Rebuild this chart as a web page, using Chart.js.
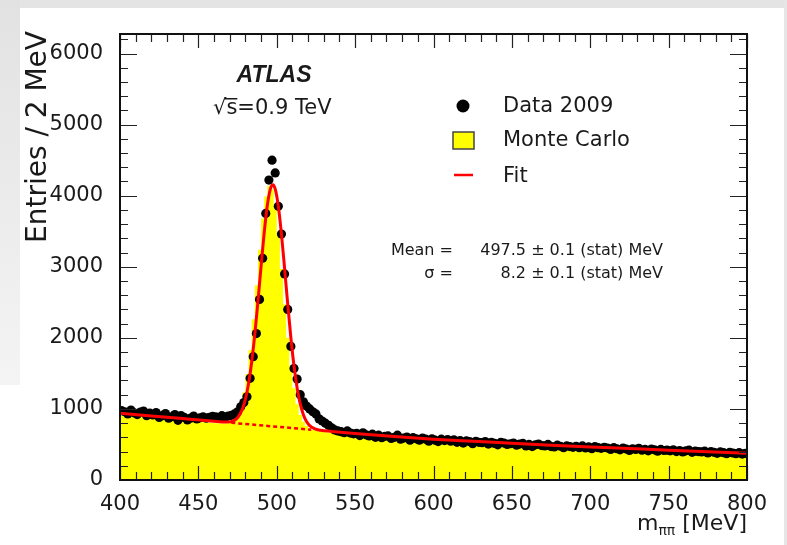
<!DOCTYPE html>
<html>
<head>
<meta charset="utf-8">
<script src="https://cdn.jsdelivr.net/npm/chart.js@4.4.1/dist/chart.umd.min.js"></script>
<style>
  html, body { margin: 0; padding: 0; background: #fff; }
  #wrap { position: relative; width: 787px; height: 545px; overflow: hidden; background: #fff; }
  .shade-top { position: absolute; left: 0; top: 0; width: 787px; height: 8px; background: #e4e4e4; }
  .shade-left { position: absolute; left: 0; top: 0; width: 20px; height: 385px; background: linear-gradient(#e2e2e2, #f4f4f4); }
  .shade-right { position: absolute; right: 0; top: 0; width: 3px; height: 545px; background: #e6e6e6; }
  canvas { position: absolute; left: 0; top: 0; }
</style>
</head>
<body>
<div id="wrap">
  <div class="shade-top"></div>
  <div class="shade-left"></div>
  <div class="shade-right"></div>
  <canvas id="myChart" width="787" height="545"></canvas>
</div>
<script>
// 2 MeV bins from 400 to 800 MeV
const binLow = 400;
const binWidth = 2;

// Data 2009, entries per bin (bin centres 401, 403, ... 799)
const data2009 = [
    975, 960, 930, 985, 945, 920, 955, 970, 905, 940,
    915, 950, 880, 905, 935, 870, 890, 920, 840, 905,
    880, 845, 870, 900, 860, 875, 890, 870, 880, 895,
    890, 875, 905, 885, 900, 910, 930, 960, 1030, 1090,
    1170, 1430, 1735, 2060, 2540, 3120, 3750, 4220, 4500, 4320,
    3850, 3460, 2900, 2400, 1880, 1570, 1420, 1200, 1100, 1040,
    1000, 960, 930, 860, 830, 800, 770, 735, 705, 690,
    680, 665, 690, 660, 650, 655, 625, 665, 635, 620,
    645, 600, 630, 595, 615, 620, 585, 600, 630, 575,
    590, 605, 560, 595, 580, 560, 590, 575, 545, 580,
    560, 540, 575, 555, 570, 545, 565, 530, 555, 520,
    550, 540, 510, 545, 530, 525, 540, 505, 530, 515,
    495, 530, 520, 500, 510, 520, 490, 505, 515, 480,
    500, 470, 495, 505, 485, 480, 500, 470, 465, 490,
    475, 455, 480, 470, 460, 475, 455, 480, 450, 465,
    440, 470, 455, 445, 460, 450, 430, 455, 440, 425,
    450, 435, 415, 440, 430, 445, 420, 430, 410, 435,
    425, 405, 430, 415, 420, 410, 425, 400, 415, 395,
    410, 420, 390, 405, 400, 395, 405, 380, 400, 390,
    375, 395, 385, 370, 390, 380, 370, 385, 365, 375
];

// Monte Carlo histogram, same bins
const monteCarlo = [
    912, 908, 905, 900, 897, 893, 889, 886, 882, 878,
    875, 871, 868, 864, 860, 856, 853, 849, 846, 842,
    838, 834, 830, 827, 823, 819, 816, 812, 808, 805,
    802, 800, 797, 795, 795, 818, 838, 872, 938, 1050,
    1230, 1490, 1830, 2260, 2740, 3240, 3680, 3990, 4140, 4090,
    3840, 3450, 2970, 2470, 2000, 1600, 1290, 1065, 915, 820,
    760, 725, 705, 692, 686, 680, 672, 668, 660, 655,
    650, 646, 640, 637, 632, 628, 626, 620, 615, 612,
    612, 608, 604, 600, 597, 592, 590, 585, 582, 578,
    578, 575, 570, 568, 565, 560, 558, 555, 552, 548,
    548, 546, 542, 540, 536, 534, 531, 528, 526, 522,
    522, 519, 517, 514, 512, 508, 506, 504, 500, 498,
    497, 494, 492, 489, 486, 484, 482, 479, 477, 475,
    474, 471, 469, 467, 464, 462, 460, 458, 456, 453,
    452, 450, 448, 446, 443, 441, 440, 437, 435, 433,
    432, 430, 428, 426, 424, 422, 420, 418, 416, 414,
    413, 411, 409, 407, 405, 403, 402, 400, 398, 396,
    395, 393, 391, 390, 388, 386, 384, 383, 381, 380,
    378, 376, 375, 373, 372, 370, 368, 367, 365, 364,
    362, 361, 359, 358, 356, 355, 353, 352, 351, 349
];

// fit curve
const fitMass = [400, 420, 440, 460, 468, 472, 475, 478, 480, 482, 484, 486, 488, 490, 492, 494, 496, 497.5,
                 499, 501, 503, 505, 507, 509, 511, 513, 515, 517, 519, 521, 524, 528, 535,
                 550, 575, 600, 625, 650, 675, 700, 725, 750, 775, 800];
const fitValue = [940, 902, 864, 826, 816, 830, 876, 993, 1137, 1354, 1657, 2048, 2510, 3007, 3481, 3865, 4100, 4155,
                  4095, 3852, 3460, 2978, 2474, 2005, 1606, 1295, 1070, 919, 823, 766, 722, 699, 684,
                  655, 612, 575, 545, 516, 490, 466, 443, 420, 398, 377];

// background part of the fit under the peak (dashed)
const bgMass = [471, 522];
const bgValue = [805, 708];

const xTickValues = [400, 450, 500, 550, 600, 650, 700, 750, 800];
const yTickValues = [0, 1000, 2000, 3000, 4000, 5000, 6000];
const yMax = 6275;

const dataPoints = data2009.map((v, i) => ({ x: binLow + binWidth * (i + 0.5), y: v }));
const mcPoints = monteCarlo.map((v, i) => ({ x: binLow + binWidth * i, y: v }));
mcPoints.push({ x: binLow + binWidth * monteCarlo.length, y: monteCarlo[monteCarlo.length - 1] });
const fitPoints = fitMass.map((m, i) => ({ x: m, y: fitValue[i] }));
const bgPoints = bgMass.map((m, i) => ({ x: m, y: bgValue[i] }));

const FONT = '"DejaVu Sans", sans-serif';

// ROOT style frame with ticks pointing inwards
const rootFrame = {
    id: 'rootFrame',
    afterDatasetsDraw(chart) {
        const { ctx, chartArea: a, scales: { x, y } } = chart;
        ctx.save();
        ctx.strokeStyle = '#222';
        ctx.lineWidth = 1.2;
        ctx.beginPath();
        for (let v = 400; v <= 800; v += 10) {
            const px = Math.round(x.getPixelForValue(v)) + 0.5;
            const len = v % 50 === 0 ? 14 : 8;
            ctx.moveTo(px, a.bottom); ctx.lineTo(px, a.bottom - len);
            ctx.moveTo(px, a.top); ctx.lineTo(px, a.top + len);
        }
        for (let v = 0; v <= yMax; v += 200) {
            const py = Math.round(y.getPixelForValue(v)) + 0.5;
            const len = v % 1000 === 0 ? 17 : 8;
            ctx.moveTo(a.left, py); ctx.lineTo(a.left + len, py);
            ctx.moveTo(a.right, py); ctx.lineTo(a.right - len, py);
        }
        ctx.stroke();
        ctx.lineWidth = 2;
        ctx.strokeStyle = '#111';
        ctx.strokeRect(a.left, a.top, a.right - a.left, a.bottom - a.top);
        ctx.restore();
    }
};

// titles, labels and legend
const annotations = {
    id: 'annotations',
    afterDraw(chart) {
        const ctx = chart.ctx;
        const ds = chart.data.datasets;
        ctx.save();
        ctx.fillStyle = '#1a1a1a';

        // y axis title
        ctx.save();
        ctx.translate(39, 31);
        ctx.rotate(-Math.PI / 2);
        ctx.font = '28px ' + FONT;
        ctx.textAlign = 'right';
        ctx.textBaseline = 'middle';
        ctx.fillText('Entries / 2 MeV', 0, 0);
        ctx.restore();

        // x axis title  m_ππ [MeV]
        ctx.textBaseline = 'alphabetic';
        ctx.textAlign = 'left';
        ctx.font = '22px ' + FONT;
        const unit = ' [MeV]';
        const wUnit = ctx.measureText(unit).width;
        ctx.font = '14px ' + FONT;
        const wSub = ctx.measureText('ππ').width;
        ctx.font = '22px ' + FONT;
        const wM = ctx.measureText('m').width;
        let xt = chart.chartArea.right - wUnit - wSub - wM;
        ctx.fillText('m', xt, 530);
        ctx.font = '14px ' + FONT;
        ctx.fillText('ππ', xt + wM, 535);
        ctx.font = '22px ' + FONT;
        ctx.fillText(unit, xt + wM + wSub, 530);

        // ATLAS label
        ctx.textAlign = 'center';
        ctx.textBaseline = 'middle';
        ctx.font = 'italic bold 23px "Liberation Sans", Arial, sans-serif';
        ctx.fillText('ATLAS', 274, 76);

        // sqrt(s) label
        ctx.textAlign = 'left';
        ctx.font = '21px ' + FONT;
        const sx = 213;
        ctx.fillText('\u221As=0.9 TeV', sx, 109);
        const wRoot = ctx.measureText('\u221A').width;
        const wS = ctx.measureText('s').width;
        ctx.fillRect(sx + wRoot - 2, 98, wS + 2, 1.5);

        // legend
        ctx.font = '21px ' + FONT;
        ctx.fillStyle = ds[1].pointBackgroundColor;
        ctx.beginPath();
        ctx.arc(463, 106, 6.5, 0, Math.PI * 2);
        ctx.fill();
        ctx.fillStyle = ds[3].backgroundColor;
        ctx.fillRect(453, 132, 21, 17);
        ctx.strokeStyle = '#444';
        ctx.lineWidth = 1.5;
        ctx.strokeRect(453, 132, 21, 17);
        ctx.strokeStyle = ds[0].borderColor;
        ctx.lineWidth = 2.5;
        ctx.beginPath();
        ctx.moveTo(454, 175); ctx.lineTo(473, 175);
        ctx.stroke();
        ctx.fillStyle = '#1a1a1a';
        ctx.fillText(ds[1].label, 503, 107);
        ctx.fillText(ds[3].label, 503, 141);
        ctx.fillText(ds[0].label, 503, 177);

        // fit results
        ctx.font = '16px ' + FONT;
        ctx.textAlign = 'right';
        ctx.fillText('Mean =', 453, 251);
        ctx.fillText('\u03C3 =', 453, 274);
        ctx.fillText('497.5 \u00B1 0.1 (stat) MeV', 663, 251);
        ctx.fillText('8.2 \u00B1 0.1 (stat) MeV', 663, 274);
        ctx.restore();
    }
};

const ctx = document.getElementById('myChart');

new Chart(ctx, {
    type: 'line',
    data: {
        datasets: [
            {
                label: 'Fit',
                data: fitPoints,
                borderColor: '#ff0000',
                borderWidth: 3,
                pointRadius: 0,
                cubicInterpolationMode: 'monotone',
                fill: false,
                order: 0
            },
            {
                label: 'Data 2009',
                data: dataPoints,
                showLine: false,
                pointRadius: 4.6,
                pointBackgroundColor: '#000000',
                pointBorderColor: '#000000',
                pointBorderWidth: 0,
                order: 1
            },
            {
                label: 'Background',
                data: bgPoints,
                borderColor: '#ff0000',
                borderWidth: 2.5,
                borderDash: [4, 3],
                pointRadius: 0,
                fill: false,
                order: 2
            },
            {
                label: 'Monte Carlo',
                data: mcPoints,
                stepped: 'after',
                fill: 'origin',
                backgroundColor: '#ffff00',
                borderColor: '#ffff00',
                borderWidth: 0,
                pointRadius: 0,
                order: 3
            }
        ]
    },
    options: {
        responsive: false,
        animation: false,
        layout: {
            padding: { left: 50, top: 34, right: 40, bottom: 20 }
        },
        plugins: {
            legend: { display: false },
            tooltip: { enabled: false }
        },
        scales: {
            x: {
                type: 'linear',
                min: 400,
                max: 800,
                grid: { display: false },
                border: { display: false },
                afterBuildTicks: s => { s.ticks = xTickValues.map(v => ({ value: v })); },
                afterFit: s => { s.height = 45; s.paddingLeft = 0; s.paddingRight = 0; },
                ticks: {
                    font: { family: 'DejaVu Sans', size: 21 },
                    color: '#1a1a1a',
                    padding: 4,
                    maxRotation: 0,
                    autoSkip: false,
                    callback: v => String(v)
                }
            },
            y: {
                type: 'linear',
                min: 0,
                max: yMax,
                grid: { display: false },
                border: { display: false },
                afterBuildTicks: s => { s.ticks = yTickValues.map(v => ({ value: v })); },
                afterFit: s => { s.width = 70; s.paddingTop = 0; s.paddingBottom = 0; },
                ticks: {
                    font: { family: 'DejaVu Sans', size: 21 },
                    color: '#1a1a1a',
                    padding: 9,
                    callback: v => String(v)
                }
            }
        }
    },
    plugins: [rootFrame, annotations]
});
</script>
</body>
</html>
